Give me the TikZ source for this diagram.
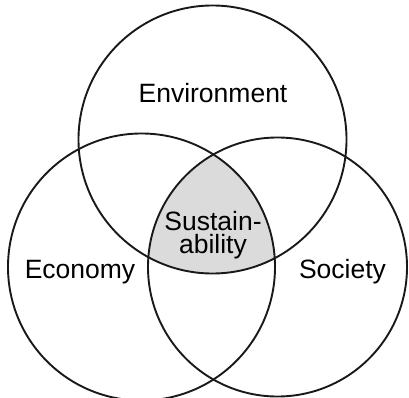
\documentclass[tikz,border=0pt]{standalone}
\usepackage{fontspec}
\setmainfont{Liberation Sans}
\begin{document}
\begin{tikzpicture}[x=1pt,y=-1pt,
  ring/.style={draw=black!90,line width=1.9pt},
  lbl/.style={font=\fontsize{26.5}{23}\selectfont,inner sep=0pt,anchor=base}]
\useasboundingbox (0,0) rectangle (409,398);
\coordinate (cT) at (212.5,139.5);
\coordinate (cL) at (141.5,267);
\coordinate (cR) at (277.5,267);
\begin{scope}
  \clip (cT) circle[radius=134];
  \clip (cL) circle[radius=133.5];
  \fill[black!14] (cR) circle[radius=129.5];
\end{scope}
\draw[ring] (cT) circle[radius=134];
\draw[ring] (cL) circle[radius=133.5];
\draw[ring] (cR) circle[radius=129.5];
\node[lbl] (env) at (213,103) {Environment};
\node[lbl] (eco) at (80,278) {Economy};
\node[lbl] (soc) at (342.5,278) {Society};
\node[lbl,align=center,font=\fontsize{26.5}{23}\selectfont] (sus) at (213,253) {Sustain-\\ability};
\end{tikzpicture}
\end{document}
